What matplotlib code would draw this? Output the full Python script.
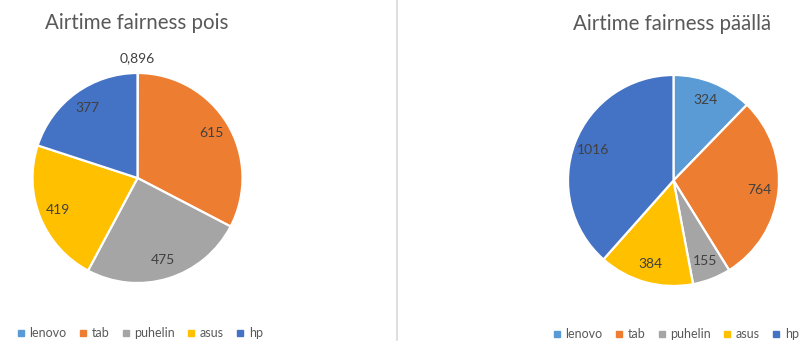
import matplotlib
matplotlib.use("Agg")
import numpy as np
import matplotlib.pyplot as plt
from matplotlib.lines import Line2D

# Device airtime with the fairness feature off and on
devices = ["lenovo", "tab", "puhelin", "asus", "hp"]
airtime_off = [0.896, 615, 475, 419, 377]
airtime_on = [324, 764, 155, 384, 1016]
labels_off = ["0,896", "615", "475", "419", "377"]
labels_on = ["324", "764", "155", "384", "1016"]
colors = ["#5B9BD5", "#ED7D31", "#A5A5A5", "#FFC000", "#4472C4"]

W, H = 803, 347
fig = plt.figure(figsize=(W / 100, H / 100), dpi=100)
plt.rcParams["font.family"] = ["Lato", "DejaVu Sans"]

label_color = "#404040"
text_color = "#595959"


def pie_axes(cx, cy, r):
    """Axes whose unit circle sits at pixel centre (cx, cy) with radius r."""
    ax = fig.add_axes([(cx - r) / W, 1 - (cy + r) / H, 2 * r / W, 2 * r / H])
    ax.axis("off")
    return ax


def draw_pie(ax, values, labels, outside=()):
    wedges, _ = ax.pie(values, radius=1, startangle=90, counterclock=False,
                       colors=colors,
                       wedgeprops=dict(edgecolor="white", linewidth=1.6))
    ax.set_xlim(-1, 1)
    ax.set_ylim(-1, 1)
    ax.set_aspect("equal")
    for i, (w, lab) in enumerate(zip(wedges, labels)):
        ang = np.deg2rad((w.theta1 + w.theta2) / 2)
        d = 1.14 if i in outside else 0.82
        ax.text(d * np.cos(ang), d * np.sin(ang), lab, ha="center", va="center",
                fontsize=10, color=label_color, clip_on=False)
    return wedges


ax1 = pie_axes(137.5, 178, 105)
draw_pie(ax1, airtime_off, labels_off, outside=(0,))
ax2 = pie_axes(673.5, 180.5, 105.5)
draw_pie(ax2, airtime_on, labels_on)

fig.text(137 / W, 1 - 23 / H, "Airtime fairness pois", ha="center", va="center",
         fontsize=14.8, color=text_color)
fig.text(672 / W, 1 - 24 / H, "Airtime fairness päällä", ha="center", va="center",
         fontsize=14.8, color=text_color)

# Separator between the two charts
fig.add_artist(Line2D([397.5 / W, 397.5 / W], [1, 1 - 340 / H],
                      color="#D9D9D9", linewidth=1.2))

handles = [Line2D([], [], marker="s", linestyle="none", markersize=5,
                  markerfacecolor=c, markeredgecolor=c) for c in colors]
for cx, cy in [(140, 333), (676, 334)]:
    fig.legend(handles, devices, loc="center", ncol=5,
               bbox_to_anchor=(cx / W, 1 - cy / H), frameon=False,
               fontsize=9, labelcolor=text_color, handlelength=0.6,
               handletextpad=0.4, columnspacing=1.0)

fig.savefig("out.png", dpi=100, facecolor="white")
